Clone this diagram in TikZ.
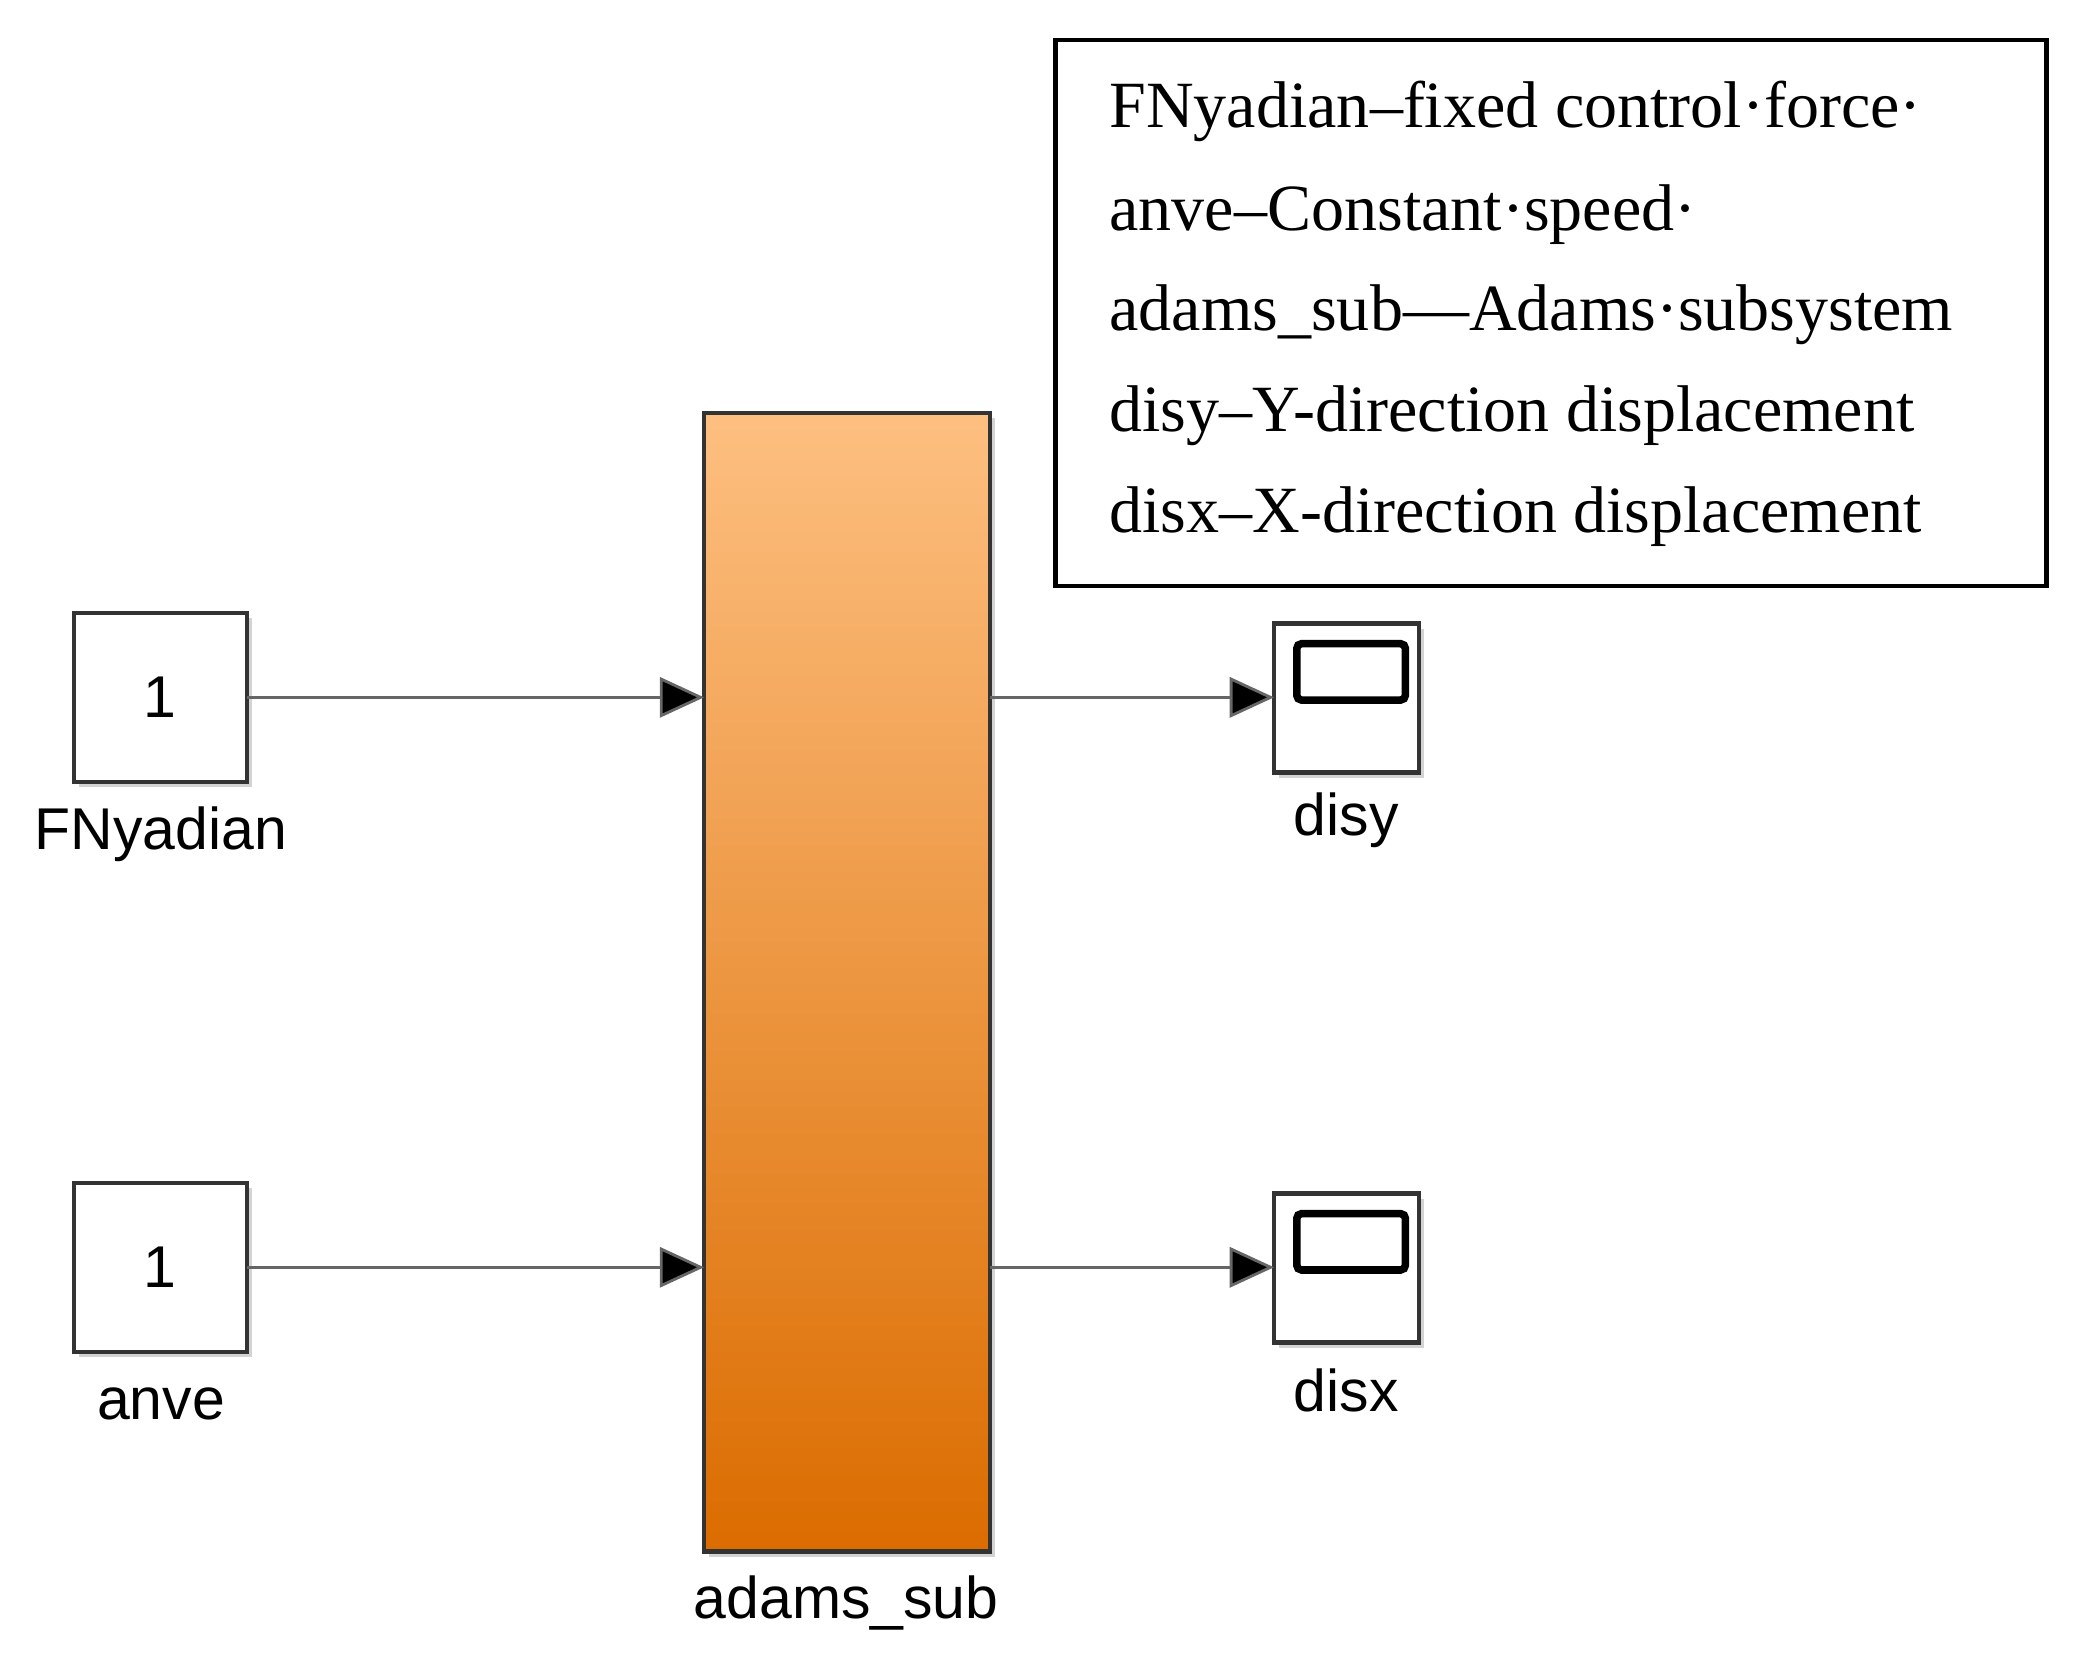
\documentclass[tikz,border=0pt]{standalone}
\usepackage{fontspec}
\setmainfont{Liberation Serif}
\newfontfamily\lsans{Liberation Sans}
\usetikzlibrary{arrows.meta,shadows}
\definecolor{subtop}{HTML}{FDBF80}
\definecolor{subbot}{HTML}{DB6C00}
\tikzset{
  blk/.style={draw=black!80,line width=0.9pt,fill=white,drop shadow={shadow xshift=0.04cm,shadow yshift=-0.04cm,opacity=0.35}},
  lbl/.style={font=\lsans\fontsize{12.5}{14}\selectfont},
  sig/.style={draw=black!60,line width=0.6pt,-{Triangle[length=0.33cm,width=0.3cm,fill=black]}},
  note/.style={anchor=west,font=\fontsize{14}{16}\selectfont}
}
\begin{document}
\begin{tikzpicture}[x=0.01cm,y=-0.01cm]
\useasboundingbox (0,0) rectangle (1560,1241);

% sources
\draw[blk] (55,457) rectangle (184,583);
\node[lbl] (c1) at (119.5,520) {1};
\coordinate (c1r) at (184,520);
\node[lbl] (fny) at (120,622) {FNyadian};

\draw[blk] (55,882) rectangle (184,1008);
\node[lbl] (c2) at (119.5,945) {1};
\coordinate (c2r) at (184,945);
\node[lbl] (anve) at (120,1047) {anve};

% subsystem
\draw[blk,top color=subtop,bottom color=subbot] (525,308) rectangle (738,1157);
\coordinate (in1) at (525,520);
\coordinate (in2) at (525,945);
\coordinate (out1) at (738,520);
\coordinate (out2) at (738,945);
\node[lbl] (sub) at (631,1195) {adams\_sub};

% scopes
\foreach \n/\y/\t in {s1/465/disy,s2/890/disx}{
  \draw[blk] (950,\y) rectangle (1058,\y+111);
  \draw[line width=1.6pt,rounded corners=1pt] (967,\y+15) rectangle (1048,\y+57);
  \coordinate (\n) at (950,\y+55);
  \node[lbl] at (1004,\y+147) {\t};
}

\draw[sig] (c1r) -- (in1);
\draw[sig] (c2r) -- (in2);
\draw[sig] (out1) -- (s1);
\draw[sig] (out2) -- (s2);

% legend
\draw[line width=0.9pt] (787,30) rectangle (1526,437);
\node[note] at (815,83) {FNyadian--fixed control·force·};
\node[note] at (815,160) {anve--Constant·speed·};
\node[note] at (815,235) {adams\_sub—Adams·subsystem};
\node[note] at (815,310) {disy--Y-direction displacement};
\node[note] at (815,385) {disx--X-direction displacement};
\end{tikzpicture}
\end{document}
